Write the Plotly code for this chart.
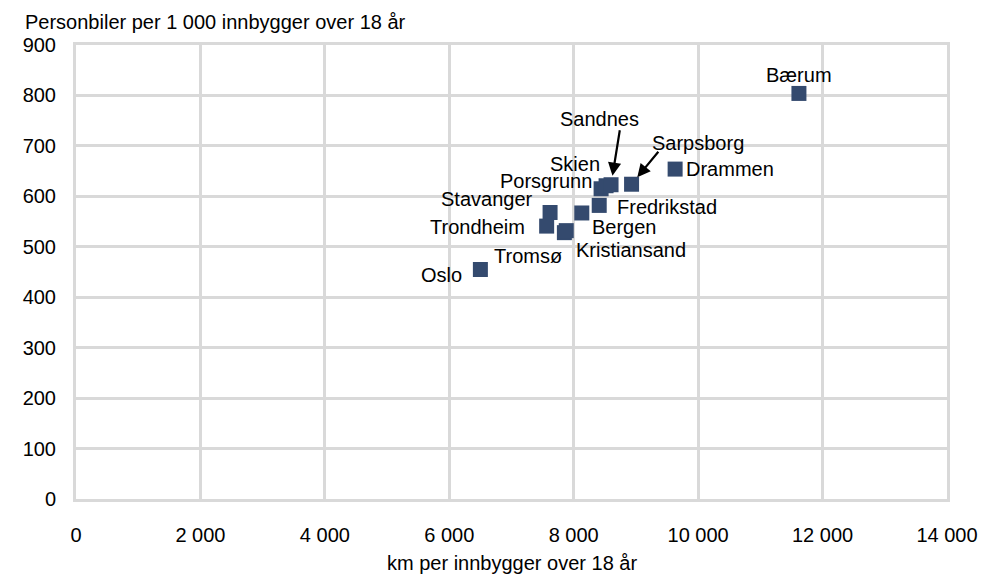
import plotly.graph_objects as go

cities = ["Oslo", "Tromsø", "Kristiansand", "Trondheim", "Stavanger", "Bergen",
          "Fredrikstad", "Porsgrunn", "Skien", "Sandnes", "Sarpsborg", "Drammen", "Bærum"]
km = [6500, 7850, 7880, 7565, 7620, 8130, 8410, 8440, 8520, 8600, 8930, 9630, 11620]
cars = [455, 528, 532, 541, 568, 567, 582, 615, 621, 623, 624, 654, 804]

# label placement: (xanchor, xshift, yshift)
label_pos = {
    "Oslo": ("right", -16, -6),
    "Tromsø": ("right", 0, -23),
    "Kristiansand": ("left", 8, -19),
    "Trondheim": ("right", -20, -1),
    "Stavanger": ("right", -15, 13),
    "Bergen": ("left", 8, -14),
    "Fredrikstad": ("left", 16, -2),
    "Porsgrunn": ("right", -7, 8),
    "Skien": ("right", -4, 22),
    "Drammen": ("left", 9, 0),
    "Bærum": ("center", 0, 18),
    "Sandnes": ("center", -12, 66),
    "Sarpsborg": ("center", 66, 41),
}
# arrow tails (pixel offsets from marker)
arrow_pos = {"Sandnes": (9, -56), "Sarpsborg": (28, -34)}

FONT = "Liberation Sans, Arial, sans-serif"
FS = 20
grid = "#d9d9d9"

fig = go.Figure(go.Scatter(
    x=km, y=cars, mode="markers",
    marker=dict(symbol="square", size=15, color="#344a6e"),
    hoverinfo="text", text=cities,
))

anns = []
for c, x, y in zip(cities, km, cars):
    if c in label_pos:
        xa, xs, ys = label_pos[c]
        anns.append(dict(x=x, y=y, text=c, showarrow=False, xanchor=xa, yanchor="middle",
                         xshift=xs, yshift=ys, font=dict(size=FS, color="#000", family=FONT)))
    if c in arrow_pos:
        ax, ay = arrow_pos[c]
        anns.append(dict(x=x, y=y, text="", showarrow=True, ax=ax, ay=ay,
                         arrowhead=2, arrowsize=1.2, arrowwidth=2.2, arrowcolor="#000",
                         standoff=9))

anns.append(dict(xref="paper", yref="paper", x=-0.061, y=1.0, yshift=23, xanchor="left",
                 yanchor="middle", showarrow=False, text="Personbiler per 1 000 innbygger over 18 år",
                 font=dict(size=FS, color="#000", family=FONT)))
anns.append(dict(xref="paper", yref="paper", x=0.5, y=0.0, yshift=-64, xanchor="center",
                 yanchor="middle", showarrow=False, text="km per innbygger over 18 år",
                 font=dict(size=FS, color="#000", family=FONT)))

fig.update_layout(
    width=982, height=576,
    margin=dict(l=76, r=35, t=45, b=77),
    paper_bgcolor="white", plot_bgcolor="white",
    separators=", ",
    showlegend=False,
    font=dict(family=FONT, size=FS, color="#000"),
    annotations=anns,
    xaxis=dict(range=[0, 14000], dtick=2000, tickformat=",d", automargin=False,
               showgrid=True, gridcolor=grid, gridwidth=3,
               showline=True, linecolor=grid, linewidth=3, mirror=True,
               zeroline=False, ticks="outside", ticklen=16, tickcolor="rgba(0,0,0,0)",
               tickfont=dict(size=FS, family=FONT)),
    yaxis=dict(range=[0, 900], dtick=100, automargin=False,
               showgrid=True, gridcolor=grid, gridwidth=3,
               showline=True, linecolor=grid, linewidth=3, mirror=True,
               zeroline=False, ticks="outside", ticklen=13, tickcolor="rgba(0,0,0,0)",
               tickfont=dict(size=FS, family=FONT)),
)

fig.write_html("out.html", config={"displayModeBar": False},
               post_script="document.body.style.margin='0';document.body.style.overflow='hidden';")
